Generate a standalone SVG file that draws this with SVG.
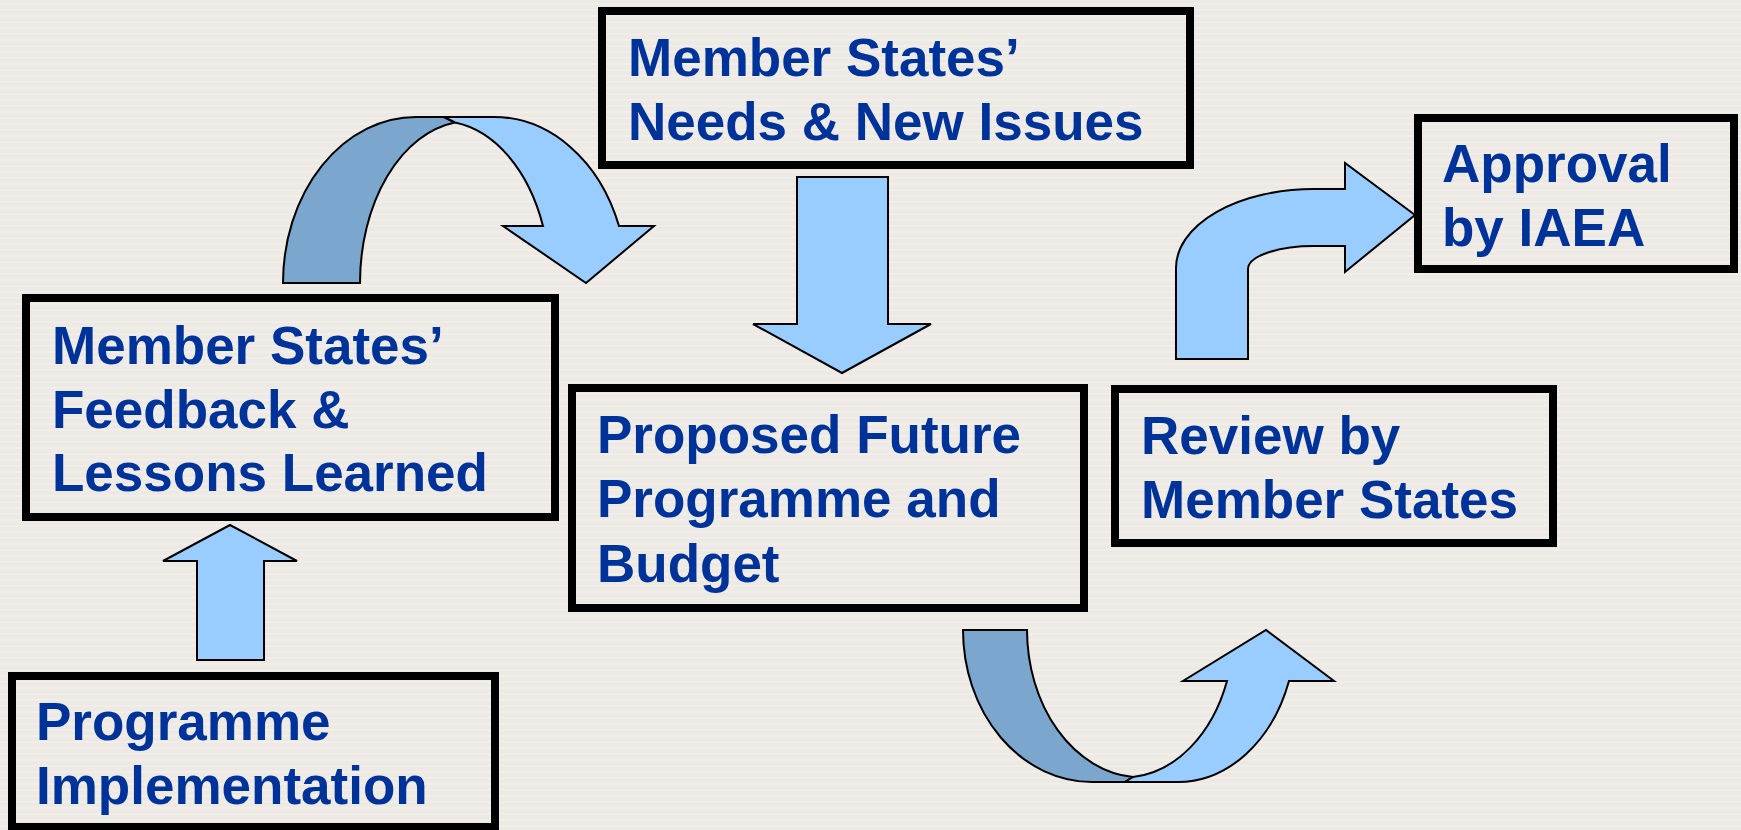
<svg xmlns="http://www.w3.org/2000/svg" width="1741" height="830" viewBox="0 0 1741 830">
<style>
.box{fill:none;stroke:#000;stroke-width:8}
.t{font-family:"Liberation Sans",Arial,sans-serif;font-weight:bold;font-size:53px;fill:#003399}
.lt{fill:#99CCFF;stroke:#000;stroke-width:2;stroke-linejoin:miter}
.dk{fill:#7BA6CE;stroke:#000;stroke-width:2}
</style>
<defs>
<pattern id="bg" width="8" height="6" patternUnits="userSpaceOnUse">
<rect width="8" height="6" fill="#EDEAE5"/>
<rect y="3" width="8" height="2" fill="#F1EEEA"/>
</pattern>
</defs>
<rect width="1741" height="830" fill="url(#bg)"/>
<g id="connectors">
<path class="dk" d="M283,283 A133,166 0 0 1 416,117 L444,117 L455,122.5 A110,162 0 0 0 360,283 Z"/>
<path class="lt" d="M455,122.5 A110,162 0 0 1 543,226 L503,226 L586,283 L654,226 L619,226 A133,166 0 0 0 494,117 L444,117 Z"/>
<path class="lt" d="M797,177 L888,177 L888,324 L931,324 L842,373 L753,324 L797,324 Z"/>
<path class="lt" d="M197,660 L197,561 L163,561 L230,525 L297,561 L264,561 L264,660 Z"/>
<path class="lt" d="M1176,359 L1176,268 A138,79 0 0 1 1314,189 L1345,189 L1345,163 L1415,215 L1345,272 L1345,246 L1314,246 A66,23 0 0 0 1248,269 L1248,359 Z"/>
<path class="dk" d="M963,630 A129,152 0 0 0 1092,782 L1125,782 L1133,777 A115,148 0 0 1 1027,630 Z"/>
<path class="lt" d="M1133,777 A110,148 0 0 0 1227,681 L1183,681 L1266,630 L1334,681 L1289,681 A118,152 0 0 1 1178,782 L1125,782 Z"/>
</g>
<g id="needs">
<rect class="box" x="602" y="11" width="588" height="154"/>
<text class="t" x="628" y="76">Member States’</text>
<text class="t" x="628" y="140">Needs &amp; New Issues</text>
</g>
<g id="feedback">
<rect class="box" x="26" y="298" width="529" height="219"/>
<text class="t" x="52" y="364">Member States’</text>
<text class="t" x="52" y="428">Feedback &amp;</text>
<text class="t" x="52" y="491">Lessons Learned</text>
</g>
<g id="implementation">
<rect class="box" x="12" y="676" width="483" height="151"/>
<text class="t" x="36" y="740">Programme</text>
<text class="t" x="36" y="804">Implementation</text>
</g>
<g id="proposed">
<rect class="box" x="572" y="388" width="512" height="220"/>
<text class="t" x="597" y="453">Proposed Future</text>
<text class="t" x="597" y="517">Programme and</text>
<text class="t" x="597" y="582">Budget</text>
</g>
<g id="review">
<rect class="box" x="1115" y="389" width="438" height="154"/>
<text class="t" x="1141" y="454">Review by</text>
<text class="t" x="1141" y="518">Member States</text>
</g>
<g id="approval">
<rect class="box" x="1418" y="118" width="316" height="151"/>
<text class="t" x="1442" y="182">Approval</text>
<text class="t" x="1442" y="246">by IAEA</text>
</g>
</svg>
